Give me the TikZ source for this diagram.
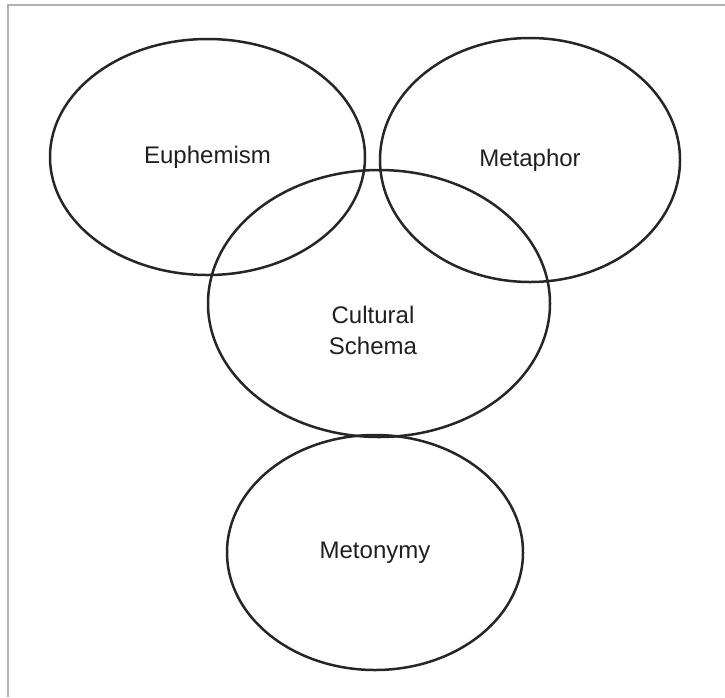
\documentclass[tikz,border=0pt]{standalone}
\usepackage{fontspec}
\setmainfont{Liberation Sans}
\usetikzlibrary{shapes.geometric}

\definecolor{rimgray}{RGB}{178,178,178}
\definecolor{inkgray}{RGB}{38,38,38}

\begin{document}
\begin{tikzpicture}[
x=1pt, y=-1pt,
oval/.style={ellipse, draw=inkgray, line width=2.5pt, inner sep=0pt,
text=black!88, font=\fontsize{24}{31}\selectfont},
tag/.style={text=black!88, font=\fontsize{24}{31}\selectfont, align=center},
rim/.style={draw=rimgray, line width=2pt}
]
\useasboundingbox (0,0) rectangle (725,697);

% frame, only top and left edges are visible
\coordinate (corner) at (8,5);
\coordinate (top-end) at (725,5);
\coordinate (left-end) at (8,697);
\path [rim] (top-end) -- (corner) -- (left-end);

\node [oval, minimum width=315pt, minimum height=236pt] (euphemism) at (207.5,157) {Euphemism};
\node [oval, minimum width=300pt, minimum height=244pt] (metaphor) at (530,160) {Metaphor};
\node [oval, minimum width=342pt, minimum height=267pt] (cultural) at (379,303.5) {};
\node [tag] (cultural-text) at (373,330) {Cultural\\Schema};
\node [oval, minimum width=296pt, minimum height=235pt] (metonymy) at (375,552.5) {Metonymy};
\end{tikzpicture}
\end{document}
